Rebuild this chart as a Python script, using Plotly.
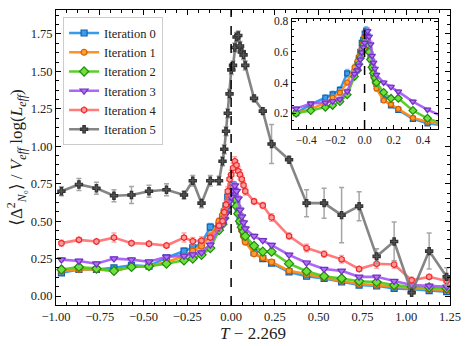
import plotly.graph_objects as go

T_C = 2.269
temperatures = [1.3, 1.4, 1.5, 1.6, 1.7, 1.8, 1.9, 2.0, 2.05, 2.1, 2.15,
                2.2, 2.22, 2.23, 2.24, 2.25, 2.26, 2.27, 2.28, 2.29, 2.30, 2.31, 2.32, 2.33, 2.34, 2.35,
                2.4, 2.45, 2.5,
                2.6, 2.7, 2.8, 2.9, 3.0, 3.1, 3.2, 3.3, 3.4, 3.5]

iter0 = [0.155, 0.177, 0.177, 0.188, 0.205, 0.199, 0.256, 0.300, 0.322, 0.352, 0.460,
         0.470, 0.520, 0.560, 0.600, 0.660, 0.680, 0.720, 0.740, 0.700, 0.630, 0.560, 0.500, 0.460, 0.420, 0.390,
         0.290, 0.250, 0.220,
         0.161, 0.132, 0.117, 0.095, 0.073, 0.068, 0.051, 0.045, 0.036, 0.029]
iter1 = [0.168, 0.177, 0.177, 0.168, 0.194, 0.199, 0.227, 0.265, 0.300, 0.333, 0.400,
         0.500, 0.540, 0.570, 0.600, 0.630, 0.660, 0.700, 0.720, 0.680, 0.620, 0.550, 0.490, 0.440, 0.400, 0.360,
         0.282, 0.256, 0.227,
         0.168, 0.143, 0.123, 0.100, 0.080, 0.073, 0.062, 0.051, 0.045, 0.040]
iter2 = [0.177, 0.194, 0.183, 0.168, 0.194, 0.199, 0.216, 0.238, 0.250, 0.275, 0.320,
         0.440, 0.480, 0.520, 0.560, 0.600, 0.640, 0.670, 0.680, 0.650, 0.600, 0.550, 0.500, 0.460, 0.430, 0.400,
         0.335, 0.296, 0.296,
         0.216, 0.165, 0.132, 0.117, 0.099, 0.093, 0.073, 0.062, 0.058, 0.051]
iter3 = [0.243, 0.234, 0.216, 0.250, 0.243, 0.229, 0.262, 0.268, 0.277, 0.290, 0.342,
         0.456, 0.480, 0.510, 0.550, 0.597, 0.630, 0.660, 0.705, 0.737, 0.700, 0.650, 0.575, 0.530, 0.490, 0.450,
         0.400, 0.372, 0.340,
         0.275, 0.222, 0.180, 0.168, 0.128, 0.128, 0.100, 0.073, 0.068, 0.062]
iter4 = [0.353, 0.375, 0.364, 0.390, 0.353, 0.349, 0.337, 0.390, 0.366, 0.370, 0.390,
         0.470, 0.500, 0.560, 0.610, 0.700, 0.780, 0.810, 0.855, 0.900, 0.874, 0.834, 0.810, 0.780, 0.740, 0.700,
         0.632, 0.605, 0.525,
         0.400, 0.320, 0.280, 0.245, 0.180, 0.215, 0.210, 0.105, 0.128, 0.100]
iter5 = [0.700, 0.745, 0.720, 0.670, 0.675, 0.700, 0.710, 0.675, 0.770, 0.620, 0.770,
         0.770, 0.900, 0.980, 1.100, 1.220, 1.350, 1.510, 1.540, 1.660, 1.730, 1.740, 1.670, 1.630, 1.610, 1.540,
         1.320, 1.235, 1.015,
         0.910, 0.620, 0.620, 0.540, 0.600, 0.265, 0.364, 0.022, 0.300, 0.128]

err0 = [0.015, 0.012, 0.012, 0.012, 0.012, 0.012, 0.015, 0.020, 0.020, 0.020, 0.025,
        0.025, 0.025, 0.025, 0.025, 0.025, 0.025, 0.025, 0.025, 0.025, 0.025, 0.025, 0.020, 0.020, 0.020, 0.020,
        0.015, 0.012, 0.012,
        0.010, 0.010, 0.008, 0.008, 0.008, 0.008, 0.006, 0.006, 0.006, 0.006]
err1 = [0.012, 0.012, 0.012, 0.012, 0.012, 0.012, 0.015, 0.015, 0.015, 0.020, 0.020,
        0.020, 0.020, 0.020, 0.020, 0.020, 0.020, 0.020, 0.020, 0.020, 0.020, 0.020, 0.020, 0.020, 0.015, 0.015,
        0.012, 0.012, 0.012,
        0.010, 0.008, 0.008, 0.008, 0.006, 0.006, 0.006, 0.006, 0.006, 0.006]
err2 = [0.015, 0.015, 0.012, 0.012, 0.012, 0.012, 0.012, 0.012, 0.012, 0.015, 0.015,
        0.020, 0.020, 0.020, 0.020, 0.020, 0.020, 0.020, 0.020, 0.020, 0.020, 0.020, 0.020, 0.020, 0.015, 0.015,
        0.015, 0.015, 0.015,
        0.010, 0.010, 0.008, 0.008, 0.006, 0.006, 0.006, 0.006, 0.006, 0.006]
err3 = [0.012, 0.012, 0.012, 0.012, 0.012, 0.012, 0.012, 0.012, 0.012, 0.015, 0.015,
        0.020, 0.020, 0.020, 0.020, 0.020, 0.020, 0.020, 0.020, 0.020, 0.020, 0.020, 0.020, 0.020, 0.015, 0.015,
        0.012, 0.012, 0.012,
        0.010, 0.010, 0.008, 0.008, 0.008, 0.008, 0.006, 0.006, 0.006, 0.006]
err4 = [0.020, 0.015, 0.015, 0.030, 0.015, 0.015, 0.015, 0.030, 0.025, 0.025, 0.025,
        0.025, 0.025, 0.025, 0.030, 0.030, 0.030, 0.030, 0.030, 0.030, 0.030, 0.030, 0.030, 0.025, 0.025, 0.025,
        0.020, 0.020, 0.025,
        0.020, 0.025, 0.020, 0.025, 0.015, 0.030, 0.025, 0.020, 0.015, 0.020]
err5 = [0.030, 0.040, 0.040, 0.040, 0.057, 0.040, 0.040, 0.025, 0.035, 0.030, 0.035,
        0.030, 0.030, 0.030, 0.030, 0.030, 0.030, 0.030, 0.030, 0.030, 0.030, 0.030, 0.030, 0.030, 0.030, 0.030,
        0.020, 0.020, 0.130,
        0.020, 0.090, 0.100, 0.185, 0.097, 0.050, 0.130, 0.010, 0.120, 0.060]

labels = ["Iteration 0", "Iteration 1", "Iteration 2", "Iteration 3", "Iteration 4", "Iteration 5"]

x_vals = [t - T_C for t in temperatures]

styles = [
    dict(line="rgba(30,144,235,0.9)", fill="#3a9de8", edge="#1560b0", err="rgba(80,170,240,0.75)", symbol="square", size=6),
    dict(line="rgba(255,140,20,0.95)", fill="#ff9a2e", edge="#d55e00", err="rgba(255,165,70,0.75)", symbol="circle", size=6),
    dict(line="rgba(80,205,30,0.95)", fill="#6ee03a", edge="#1f8a10", err="rgba(120,225,80,0.75)", symbol="diamond", size=7),
    dict(line="rgba(165,85,245,0.9)", fill="#b070f5", edge="#7030c0", err="rgba(185,130,250,0.75)", symbol="triangle-down", size=7),
    dict(line="rgba(255,90,90,0.8)", fill="#ff9a9a", edge="#ee2a2a", err="rgba(255,130,130,0.7)", symbol="hexagon", size=6),
    dict(line="rgba(120,120,120,0.9)", fill="#555555", edge="#333333", err="rgba(150,150,150,0.85)", symbol="cross", size=6),
]
series = [iter0, iter1, iter2, iter3, iter4, iter5]
errors = [err0, err1, err2, err3, err4, err5]

FONT = "Liberation Serif, DejaVu Serif, serif"
fig = go.Figure()

for i, (ys, es, lab, st) in enumerate(zip(series, errors, labels, styles)):
    fig.add_trace(go.Scatter(
        x=x_vals, y=ys, name=lab, mode="lines+markers",
        line=dict(color=st["line"], width=2.6),
        marker=dict(symbol=st["symbol"], size=st["size"], color=st["fill"],
                    line=dict(color=st["edge"], width=1.2)),
        error_y=dict(type="data", array=es, visible=True, color=st["err"], thickness=1.5, width=2.5),
        xaxis="x", yaxis="y",
    ))

for i in range(4):
    st = styles[i]
    fig.add_trace(go.Scatter(
        x=x_vals, y=series[i], name=labels[i], mode="lines+markers", showlegend=False,
        line=dict(color=st["line"], width=2.5),
        marker=dict(symbol=st["symbol"], size=st["size"] - 1, color=st["fill"],
                    line=dict(color=st["edge"], width=1.2)),
        error_y=dict(type="data", array=errors[i], visible=True, color=st["err"], thickness=1.5, width=2),
        xaxis="x2", yaxis="y2",
    ))

axis_common = dict(
    showline=True, linecolor="black", linewidth=1, mirror="allticks",
    ticks="inside", ticklen=5, tickwidth=1, tickcolor="black",
    showgrid=False, zeroline=False,
    tickfont=dict(family=FONT, size=12.5, color="#222"),
)

fig.update_layout(
    width=468, height=346,
    margin=dict(l=56, r=18, t=7, b=41),
    paper_bgcolor="white", plot_bgcolor="white",
    font=dict(family=FONT, color="#222"),
    xaxis=dict(**axis_common, range=[-1.0, 1.25], tickvals=[-1.0, -0.75, -0.5, -0.25, 0.0, 0.25, 0.5, 0.75, 1.0, 1.25],
               tickformat=".2f", domain=[0, 1],
               minor=dict(ticks="inside", ticklen=3, tickcolor="black", dtick=0.0625, tick0=0, showgrid=False),
               title=dict(text="<i>T</i> − 2.269", font=dict(family=FONT, size=17), standoff=2)),
    yaxis=dict(**axis_common, range=[-0.06, 1.91], tickvals=[0, 0.25, 0.5, 0.75, 1.0, 1.25, 1.5, 1.75],
               tickformat=".2f", domain=[0, 1],
               minor=dict(ticks="inside", ticklen=3, tickcolor="black", dtick=0.0625, tick0=0, showgrid=False),
               title=dict(text="⟨Δ<sup>2</sup><sub><i>N</i>₀</sub>⟩ / <i>V<sub>eff</sub></i> log(<i>L<sub>eff</sub></i>)",
                          font=dict(family=FONT, size=17), standoff=3)),
    xaxis2=dict(**{**axis_common, "tickfont": dict(family=FONT, size=11.5, color="#222"), "ticklen": 4},
                anchor="y2", domain=[0.598, 0.9695], range=[-0.5, 0.503],
                tickvals=[-0.4, -0.2, 0.0, 0.2, 0.4], tickformat=".1f",
                minor=dict(ticks="inside", ticklen=2, tickcolor="black", dtick=0.05, tick0=0, showgrid=False)),
    yaxis2=dict(**{**axis_common, "tickfont": dict(family=FONT, size=11.5, color="#222"), "ticklen": 4},
                anchor="x2", domain=[0.597, 0.970], range=[0.096, 0.817],
                tickvals=[0.2, 0.4, 0.6, 0.8], tickformat=".1f",
                minor=dict(ticks="inside", ticklen=2, tickcolor="black", dtick=0.05, tick0=0, showgrid=False)),
    legend=dict(x=0.018, y=0.975, xanchor="left", yanchor="top",
                bgcolor="rgba(255,255,255,0.9)", bordercolor="#cccccc", borderwidth=1,
                font=dict(family=FONT, size=12.5, color="#222"), tracegroupgap=0, itemwidth=30),
    shapes=[
        dict(type="line", xref="x", yref="y domain", x0=0, x1=0, y0=0, y1=1,
             line=dict(color="black", width=1.5, dash="dash"), layer="above"),
        dict(type="line", xref="x2", yref="y2 domain", x0=0, x1=0, y0=0, y1=1,
             line=dict(color="black", width=1.5, dash="dash"), layer="above"),
    ],
)

fig.write_html("out.html", config={"displayModeBar": False},
               post_script="document.body.style.margin='0';document.body.style.overflow='hidden';")
